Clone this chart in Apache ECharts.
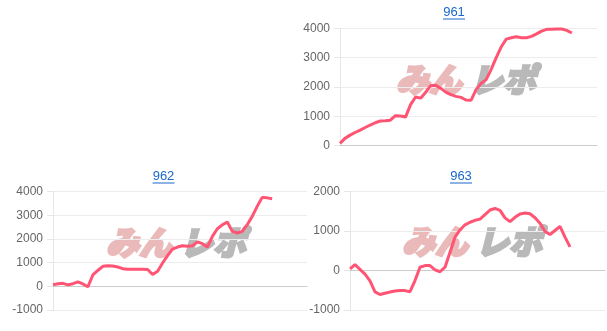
<!DOCTYPE html>
<html><head><meta charset="utf-8">
<script src="https://cdn.jsdelivr.net/npm/echarts@6/dist/echarts.min.js"></script>
<style>html,body{margin:0;padding:0;background:#fff}#c{width:607px;height:331px}</style>
</head><body><div id="c"></div>
<script>
const titles = ['961', '962', '963'];
const categoryCount = 52;
const categories = Array.from({length: categoryCount}, (_, i) => String(i + 1));
const values961 = [80,250,360,450,533,620,705,782,840,850,869,1022,1011,975,1400,1660,1620,1820,2050,2056,1954,1826,1740,1680,1647,1556,1547,1910,2124,2250,2600,3000,3370,3630,3680,3715,3680,3680,3725,3810,3905,3965,3970,3976,3976,3930,3840];
const values962 = [70,112,127,63,113,190,99,-20,480,670,845,873,859,817,746,718,718,718,718,711,500,634,986,1295,1577,1661,1718,1690,1718,1880,1802,1661,2112,2436,2600,2720,2323,2253,2323,2605,2957,3380,3760,3740,3700];
const values963 = [42,152,30,-90,-260,-540,-607,-576,-545,-517,-508,-508,-536,-254,85,127,127,17,-30,85,466,847,1030,1160,1225,1275,1305,1420,1535,1575,1525,1335,1240,1350,1435,1460,1440,1340,1200,990,915,1016,1120,847,600];
const yTicks961 = {min: 0, max: 4000, interval: 1000};
const yTicks962 = {min: -1000, max: 4000, interval: 1000};
const yTicks963 = {min: -1000, max: 2000, interval: 1000};

const grids = [
  {left: 340, right: 10, top: 28.3, bottom: 185.3},
  {left: 53, right: 300, top: 191.7, bottom: 21},
  {left: 350, right: 2, top: 191.7, bottom: 21}
];
const yRanges = [yTicks961, yTicks962, yTicks963];
const seriesData = [values961, values962, values963];
const titlePos = [{x: 454, y: 12}, {x: 163.5, y: 176}, {x: 461, y: 176}];
const markPos = [{x: 396, y: 63}, {x: 106, y: 226}, {x: 402, y: 225}];

const lineColor = '#ff5473';
const option = {
  animation: false,
  backgroundColor: '#fff',
  grid: grids.map(g => Object.assign({containLabel: false}, g)),
  xAxis: grids.map((g, i) => ({
    type: 'category', gridIndex: i, data: categories, boundaryGap: false,
    axisLabel: {show: false}, axisTick: {show: false},
    axisLine: {show: true, lineStyle: {color: '#cccccc'}},
    splitLine: {show: false}
  })),
  yAxis: yRanges.map((r, i) => ({
    type: 'value', gridIndex: i, min: r.min, max: r.max, interval: r.interval,
    axisLabel: {color: '#666', fontSize: 12, margin: 10, fontFamily: 'Liberation Sans, Arial, sans-serif', formatter: v => String(v)},
    axisTick: {show: true, length: 6, lineStyle: {color: '#e6e6e6'}},
    axisLine: {show: true, lineStyle: {color: '#e6e6e6'}},
    splitLine: {show: true, lineStyle: {color: '#ececec'}}
  })),
  series: seriesData.map((d, i) => ({
    type: 'line', xAxisIndex: i, yAxisIndex: i, data: d, showSymbol: false, symbol: 'none',
    lineStyle: {color: lineColor, width: 3}, z: 5
  })),
  graphic: []
};
titles.forEach((t, i) => {
  const p = titlePos[i];
  option.graphic.push({type: 'text', x: p.x, y: p.y, style: {text: t, fill: '#1a68c8', font: '13px "Liberation Sans", Arial, sans-serif', textAlign: 'center', textVerticalAlign: 'middle'}});
  option.graphic.push({type: 'line', shape: {x1: p.x - 11, y1: p.y + 7, x2: p.x + 11, y2: p.y + 7}, style: {stroke: '#1a68c8', lineWidth: 1}});
  const m = markPos[i];
  option.graphic.push({type: 'text', x: m.x, y: m.y, z: 0, style: {text: 'みん', fill: 'rgb(234,185,185)', stroke: 'rgb(234,185,185)', lineWidth: 2.5, font: 'italic 900 33px "Noto Sans CJK JP", sans-serif', textVerticalAlign: 'top'}});
  option.graphic.push({type: 'text', x: m.x + 74, y: m.y, z: 0, style: {text: 'レポ', fill: 'rgb(185,185,185)', stroke: 'rgb(185,185,185)', lineWidth: 2.5, font: 'italic 900 33px "Noto Sans CJK JP", sans-serif', textVerticalAlign: 'top'}});
});
const chart = echarts.init(document.getElementById('c'), null, {renderer: 'canvas'});
chart.setOption(option);
</script></body></html>
